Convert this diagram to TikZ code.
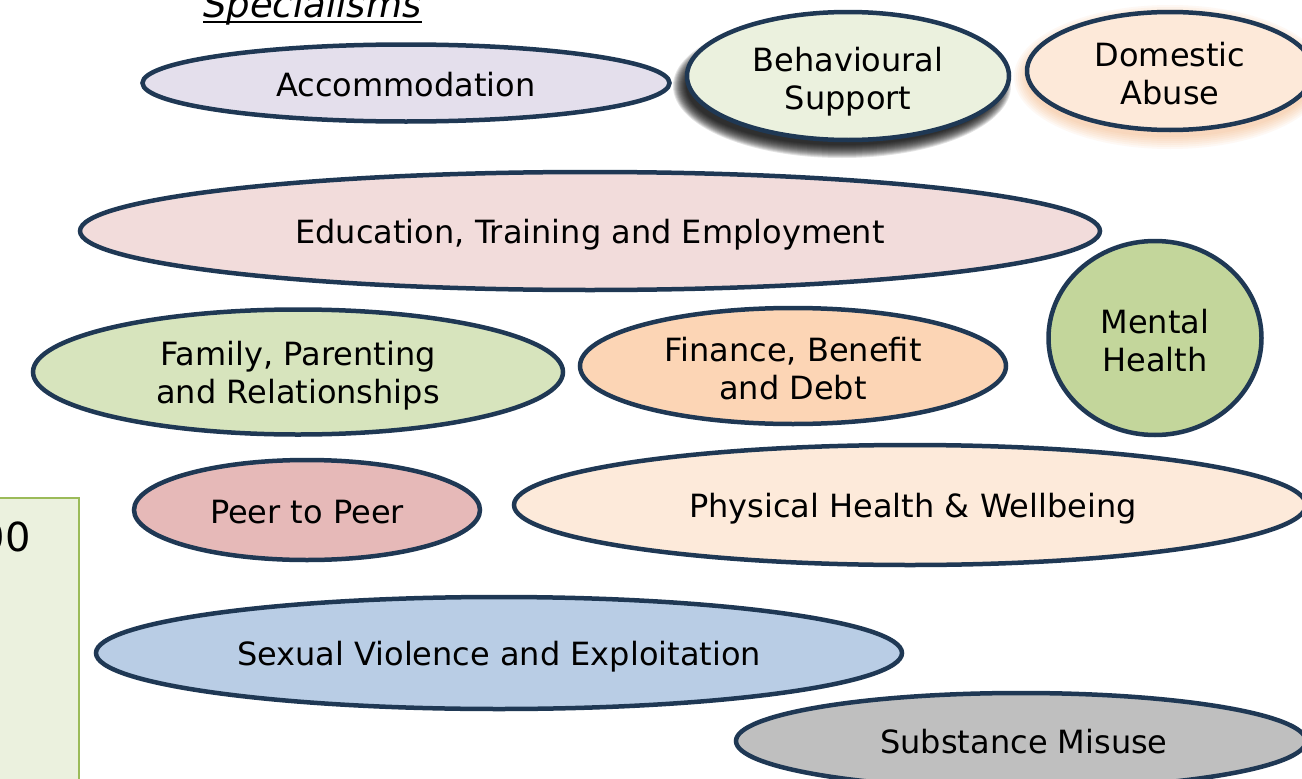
\documentclass[tikz,border=0pt]{standalone}
\usepackage{fontspec}
\setmainfont{DejaVu Sans}
\usetikzlibrary{shapes.geometric}
\definecolor{edge}{HTML}{1F3854}
\definecolor{cAcc}{HTML}{E4DFEC}
\definecolor{cBeh}{HTML}{EBF1DE}
\definecolor{cDom}{HTML}{FDE9D9}
\definecolor{cEdu}{HTML}{F2DCDB}
\definecolor{cMen}{HTML}{C3D69B}
\definecolor{cFam}{HTML}{D7E4BD}
\definecolor{cFin}{HTML}{FCD5B5}
\definecolor{cPeer}{HTML}{E6B9B8}
\definecolor{cPhy}{HTML}{FDEADA}
\definecolor{cSex}{HTML}{B9CDE5}
\definecolor{cSub}{HTML}{BFBFBF}
\definecolor{boxfill}{HTML}{EBF1DE}
\definecolor{boxedge}{HTML}{9BBB59}
\definecolor{glow}{HTML}{F79646}
\begin{document}
\begin{tikzpicture}[x=1pt,y=-1pt,
  oval/.style={ellipse, draw=edge, line width=4.5pt, inner sep=0pt, outer sep=0pt},
  lbl/.style={inner sep=0pt, font=\fontsize{32}{38}\selectfont, align=center, text=black},
  plain/.style={inner sep=0pt, font=\fontsize{40}{44}\selectfont, text=black}]
\useasboundingbox (0,0) rectangle (1302,779);
\clip (0,0) rectangle (1302,779);
\fill[white] (0,0) rectangle (1302,779);

% left box
\node[draw=boxedge, fill=boxfill, line width=2pt, minimum width=100pt, minimum height=300pt,
  inner sep=0pt, anchor=north east] (box) at (80,497) {};
\node[plain, anchor=base east] (num) at (31,551) {00};

% title
\node[inner sep=0pt, font=\fontsize{37}{40}\selectfont\itshape, anchor=base west] (title) at (203,17) {Specialisms};
\draw[line width=2pt] ([yshift=-5pt]title.base west) -- ([yshift=-5pt]title.base east);

% blurred shadow of Behavioural Support
\foreach \r in {-5,-4,...,8}
  \fill[black, opacity=0.11] (842,86) ellipse [x radius=161+\r, y radius=64+\r];
% glow of Domestic Abuse
\foreach \r in {1,3,...,13}
  \fill[glow, opacity=0.06] (1170,77) ellipse [x radius=143+\r, y radius=59+\r];

\node[oval, fill=cAcc, minimum width=527pt, minimum height=77pt] (acc) at (406,83) {};
\node[oval, fill=cBeh, minimum width=322pt, minimum height=128pt] (beh) at (848,76) {};
\node[oval, fill=cDom, minimum width=286pt, minimum height=118pt] (dom) at (1170,71) {};
\node[oval, fill=cEdu, minimum width=1020pt, minimum height=118pt] (edu) at (590,231) {};
\node[oval, fill=cMen, minimum width=213pt, minimum height=194pt] (men) at (1155,338) {};
\node[oval, fill=cFam, minimum width=530pt, minimum height=125pt] (fam) at (298,372) {};
\node[oval, fill=cFin, minimum width=426pt, minimum height=116pt] (fin) at (793,366) {};
\node[oval, fill=cPeer, minimum width=346pt, minimum height=100pt] (peer) at (307,510) {};
\node[oval, fill=cPhy, minimum width=792pt, minimum height=120pt] (phy) at (910,505) {};
\node[oval, fill=cSex, minimum width=806pt, minimum height=112pt] (sex) at (499,653) {};
\node[oval, fill=cSub, minimum width=570pt, minimum height=96pt] (sub) at (1021,741) {};

\node[lbl] (tacc) at ([yshift=-2pt]acc.center) {Accommodation};
\node[lbl] (tbeh) at ([yshift=-6pt]beh.center) {Behavioural\\Support};
\node[lbl] (tdom) at ([yshift=-3pt]dom.center) {Domestic\\Abuse};
\node[lbl] (tedu) at ([yshift=-4pt]edu.center) {Education, Training and Employment};
\node[lbl] (tmen) at ([yshift=-3pt]men.center) {Mental\\Health};
\node[lbl] (tfam) at ([yshift=-4pt]fam.center) {Family, Parenting\\and Relationships};
\node[lbl] (tfin) at ([yshift=-3pt]fin.center) {Finance, Benefit\\and Debt};
\node[lbl] (tpeer) at ([yshift=-2pt]peer.center) {Peer to Peer};
\node[lbl] (tphy) at ([yshift=-4pt,xshift=3pt]phy.center) {Physical Health \& Wellbeing};
\node[lbl] (tsex) at ([yshift=-4pt]sex.center) {Sexual Violence and Exploitation};
\node[lbl] (tsub) at ([yshift=-1pt,xshift=3pt]sub.center) {Substance Misuse};
\end{tikzpicture}
\end{document}
